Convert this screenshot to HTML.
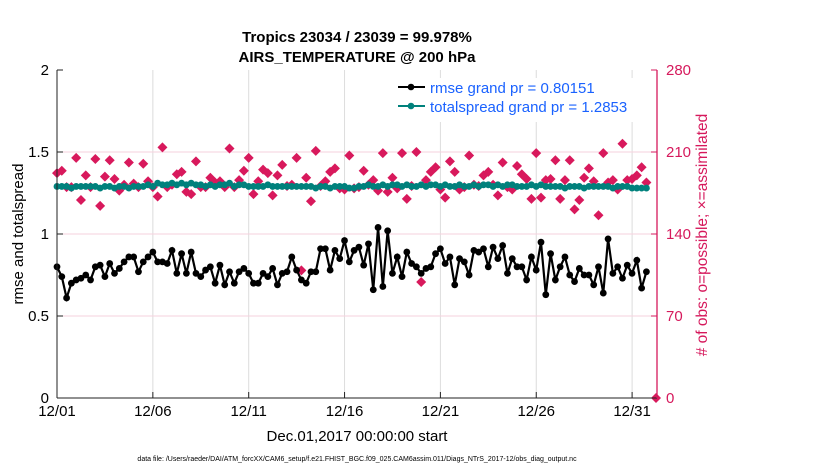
<!DOCTYPE html>
<html><head><meta charset="utf-8">
<style>
body{margin:0;background:#fff;width:830px;height:470px;overflow:hidden;font-family:"Liberation Sans",sans-serif;}
svg{display:block}
</style></head>
<body>
<svg id="chart" width="830" height="470" xmlns="http://www.w3.org/2000/svg" font-family="Liberation Sans, sans-serif">
<text x="357" y="42" text-anchor="middle" font-size="15" font-weight="bold">Tropics 23034 / 23039 = 99.978%</text>
<text x="357" y="62" text-anchor="middle" font-size="15" font-weight="bold">AIRS_TEMPERATURE @ 200 hPa</text>
<g id="grid"></g>
<g id="marks"></g>
<g id="axes"></g>
<g>
<rect x="393" y="78" width="262" height="44" fill="#fff"/>
<line x1="398" y1="87" x2="425" y2="87" stroke="#000" stroke-width="2"/>
<circle cx="411" cy="87" r="3.3" fill="#000"/>
<text x="430" y="93" font-size="15" fill="#1a62ff">rmse grand pr = 0.80151</text>
<line x1="398" y1="106" x2="425" y2="106" stroke="#00817c" stroke-width="2"/>
<circle cx="411" cy="106" r="3.3" fill="#00817c"/>
<text x="430" y="112" font-size="15" fill="#1a62ff">totalspread grand pr = 1.2853</text>
</g>
<text transform="translate(23,234) rotate(-90)" text-anchor="middle" font-size="15">rmse and totalspread</text>
<text transform="translate(707,235) rotate(-90)" text-anchor="middle" font-size="15.5" fill="#d6195c">#  of obs: o=possible; ×=assimilated</text>
<text x="357" y="441" text-anchor="middle" font-size="15">Dec.01,2017 00:00:00 start</text>
<text x="357" y="461" text-anchor="middle" font-size="7">data file: /Users/raeder/DAI/ATM_forcXX/CAM6_setup/f.e21.FHIST_BGC.f09_025.CAM6assim.011/Diags_NTrS_2017-12/obs_diag_output.nc</text>
</svg>
<script>
const xTickLabels=["12/01","12/06","12/11","12/16","12/21","12/26","12/31"];
const xTickDays=[0,5,10,15,20,25,30];
const yLeftTicks=[0,0.5,1,1.5,2];
const yRightTicks=[0,70,140,210,280];
const rmse=[0.80,0.74,0.61,0.70,0.72,0.73,0.75,0.72,0.80,0.81,0.74,0.82,0.76,0.79,0.83,0.86,0.86,0.77,0.83,0.86,0.89,0.83,0.83,0.82,0.90,0.76,0.88,0.76,0.89,0.76,0.74,0.78,0.80,0.70,0.81,0.69,0.77,0.70,0.77,0.79,0.76,0.70,0.70,
0.76,0.74,0.79,0.69,0.76,0.77,0.86,0.78,0.72,0.70,0.77,0.77,0.91,0.91,0.78,0.90,0.85,0.96,0.83,0.90,0.92,0.81,0.94,0.66,1.04,0.68,1.02,0.76,0.86,0.74,0.89,0.82,0.80,0.76,0.79,0.80,0.88,0.91,0.82,0.86,
0.69,0.85,0.83,0.75,0.90,0.89,0.91,0.80,0.92,0.85,0.93,0.76,0.85,0.80,0.80,0.72,0.86,0.78,0.95,0.63,0.88,0.72,0.80,0.86,0.75,0.71,0.79,0.75,0.75,0.69,0.80,0.64,0.97,0.76,0.80,0.73,0.81,0.76,0.84,0.67,0.77];
const spread=[1.29,1.29,1.29,1.28,1.29,1.29,1.29,1.29,1.29,1.28,1.29,1.29,1.28,1.29,1.29,1.28,1.29,1.29,1.29,1.30,1.29,1.31,1.30,1.30,1.31,1.30,1.31,1.30,1.31,1.30,1.30,1.29,1.30,1.29,1.30,1.30,1.31,1.29,1.30,1.30,1.29,1.29,1.29,
1.29,1.30,1.29,1.29,1.29,1.29,1.29,1.29,1.29,1.29,1.29,1.28,1.29,1.29,1.28,1.29,1.29,1.29,1.28,1.28,1.29,1.29,1.30,1.29,1.29,1.30,1.29,1.30,1.30,1.29,1.30,1.29,1.29,1.30,1.29,1.30,1.30,1.29,1.30,1.29,
1.29,1.30,1.29,1.29,1.30,1.29,1.30,1.30,1.29,1.30,1.29,1.30,1.30,1.29,1.29,1.29,1.30,1.29,1.30,1.29,1.29,1.29,1.29,1.28,1.29,1.29,1.29,1.28,1.29,1.29,1.29,1.29,1.29,1.28,1.29,1.29,1.29,1.28,1.28,1.28,1.28];
const obs=[192,194,180,180,205,169,190,180,204,164,189,203,187,177,182,201,183,180,200,185,180,172,214,180,182,191,193,176,174,202,180,180,188,184,185,180,213,180,186,194,205,174,
185,195,192,173,190,199,181,182,205,109,188,168,211,181,185,193,196,179,178,207,179,180,194,182,186,177,209,176,188,179,209,170,181,210,99,186,193,197,178,171,202,193,
178,180,207,182,181,190,193,182,173,201,180,178,198,191,187,170,209,171,186,187,203,170,186,203,161,169,188,196,185,156,209,184,186,178,217,186,187,190,197,184,null,0];
const NS="http://www.w3.org/2000/svg";
const L=57,R=657,T=70,B=398,STEP=4.792;
const xIdx=i=>L+i*STEP;
const xDay=d=>L+d*19.17;
const yL=v=>B-(v/2)*(B-T);
const yR=v=>B-(v/280)*(B-T);
function mk(tag,attrs,parent){const e=document.createElementNS(NS,tag);for(const k in attrs)e.setAttribute(k,attrs[k]);parent.appendChild(e);return e;}
const grid=document.getElementById('grid'),marks=document.getElementById('marks'),axes=document.getElementById('axes');
mk('rect',{x:L,y:T,width:R-L,height:B-T,fill:'#fff'},grid);
xTickDays.forEach((d,i)=>{
  const g=mk('line',{x1:xDay(d),x2:xDay(d),y1:T,y2:B,stroke:'#dcdcdc','stroke-width':1},grid);
  
  
  mk('line',{x1:xDay(d),x2:xDay(d),y1:B,y2:B-6,stroke:'#222'},axes);
  const t=mk('text',{x:xDay(d),y:B+18,'text-anchor':'middle','font-size':15},axes);
  t.textContent=xTickLabels[i];
  
  
});
yLeftTicks.forEach(v=>{
  if(v>0&&v<2){const g=mk('line',{x1:L,x2:R,y1:yL(v),y2:yL(v),stroke:'#f6d2de','stroke-width':1},grid);
  
  }
  mk('line',{x1:L,x2:L+6,y1:yL(v),y2:yL(v),stroke:'#222'},axes);
  const t=mk('text',{x:L-8,y:yL(v)+5,'text-anchor':'end','font-size':15},axes);
  t.textContent=String(v);
  
  
});
yRightTicks.forEach(v=>{
  mk('line',{x1:R,x2:R-6,y1:yR(v),y2:yR(v),stroke:'#d6195c'},axes);
  const t=mk('text',{x:R+9,y:yR(v)+5,'font-size':15,fill:'#d6195c'},axes);
  t.textContent=String(v);
  
  
});
mk('line',{x1:L,x2:R,y1:B,y2:B,stroke:'#222'},axes);
mk('line',{x1:L,x2:L,y1:T,y2:B,stroke:'#222'},axes);
mk('line',{x1:R,x2:R,y1:T,y2:B,stroke:'#d6195c','stroke-width':1.3},axes);
obs.forEach((v,i)=>{
  if(v===null)return;
  const cx=xIdx(i),cy=yR(v);
  const p=mk('polygon',{points:`${cx},${cy-5} ${cx+5},${cy} ${cx},${cy+5} ${cx-5},${cy}`,fill:'#d8195c'},marks);
  
  
});
function series(arr,color,name){
  const pl=mk('polyline',{points:arr.map((v,i)=>xIdx(i)+','+yL(v)).join(' '),fill:'none',stroke:color,'stroke-width':2.2},marks);
  
  
  arr.forEach((v,i)=>{
    const c=mk('circle',{cx:xIdx(i),cy:yL(v),r:3.4,fill:color},marks);
    
    
  });
}
series(spread,'#00817c','totalspread');
series(rmse,'#000000','rmse');
</script>
</body></html>
